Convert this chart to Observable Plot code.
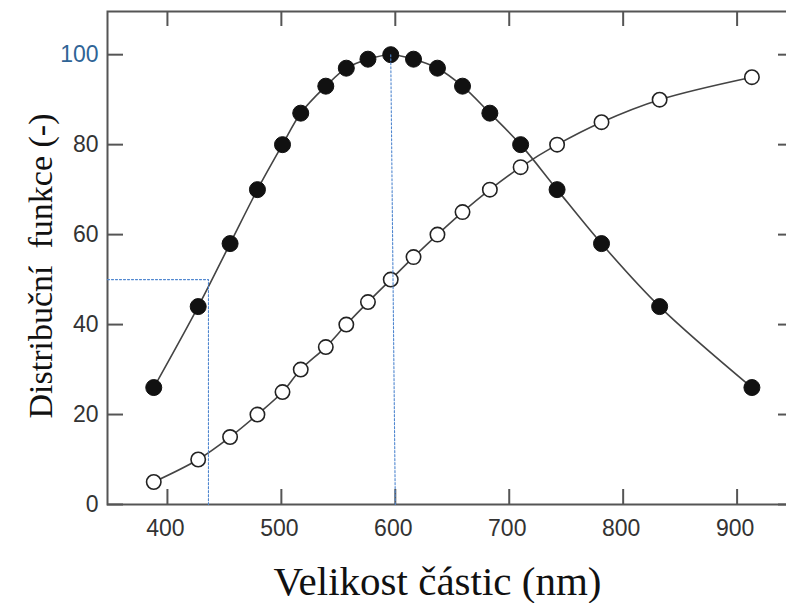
<!DOCTYPE html>
<html>
<head>
<meta charset="utf-8">
<script src="https://cdn.jsdelivr.net/npm/d3@7"></script>
<script src="https://cdn.jsdelivr.net/npm/@observablehq/plot@0.6"></script>
<style>
  html, body { margin: 0; padding: 0; background: #fff; overflow: hidden; }
</style>
</head>
<body>
<div id="chart"></div>
<script>
// Particle size (nm)
const sizes = [388, 427, 455, 479, 501, 517, 539, 557, 576, 596, 616, 637, 659, 683, 710, 742, 781, 832, 913];
// Filled circles: frequency distribution (-)
const distribution = [26, 44, 58, 70, 80, 87, 93, 97, 99, 100, 99, 97, 93, 87, 80, 70, 58, 44, 26];
// Open circles: cumulative distribution (-)
const cumulative = [5, 10, 15, 20, 25, 30, 35, 40, 45, 50, 55, 60, 65, 70, 75, 80, 85, 90, 95];

const xTicks = [400, 500, 600, 700, 800, 900];
const yTicks = [0, 20, 40, 60, 80, 100];
const xDomain = [347.4, 949.5];
const yDomain = [0, 109.6];

// Blue dotted guides
const guide50x = [xDomain[0], 436, 436];
const guide50y = [50, 50, 0];
const guideModeX = [596, 600];
const guideModeY = [100, 0];

const xTitle = "Velikost částic (nm)";
const yTitle = "Distribuční  funkce (-)";

const filledData = sizes.map((x, i) => ({x, y: distribution[i]}));
const openData = sizes.map((x, i) => ({x, y: cumulative[i]}));
const g50 = guide50x.map((x, i) => ({x, y: guide50y[i]}));
const gMode = guideModeX.map((x, i) => ({x, y: guideModeY[i]}));

const W = 786, H = 603;
const mL = 107, mR = -7, mT = 11, mB = 99;
const frameH = H - mT - mB;
const frameW = W - mL - mR;
const tickLen = 15;
const blue = "#4f86cf";

const chart = Plot.plot({
  width: W,
  height: H,
  marginLeft: mL,
  marginRight: mR,
  marginTop: mT,
  marginBottom: mB,
  style: {fontFamily: "'Liberation Sans', Arial, sans-serif", background: "#fff", color: "#333"},
  x: {domain: xDomain},
  y: {domain: yDomain},
  marks: [
    Plot.frame({stroke: "#555", strokeWidth: 2}),
    // inward ticks on all sides
    Plot.ruleX(xTicks, {insetTop: frameH - tickLen, stroke: "#555", strokeWidth: 2}),
    Plot.ruleX(xTicks, {insetBottom: frameH - tickLen, stroke: "#555", strokeWidth: 2}),
    Plot.ruleY(yTicks, {insetRight: frameW - 16, stroke: "#555", strokeWidth: 2}),
    Plot.ruleY(yTicks, {insetLeft: frameW - tickLen, stroke: "#555", strokeWidth: 2}),
    Plot.axisX(xTicks, {anchor: "bottom", tickSize: 0, tickPadding: 15, fontSize: 23, fill: "#333", dx: -2, label: null}),
    Plot.axisY(yTicks, {anchor: "left", tickSize: 0, tickPadding: 9, fontSize: 23, label: null,
      fill: d => d === 100 ? "#2f6496" : "#333"}),
    // curves
    Plot.line(filledData, {x: "x", y: "y", curve: "catmull-rom", stroke: "#444", strokeWidth: 1.6}),
    Plot.line(openData, {x: "x", y: "y", curve: "catmull-rom", stroke: "#444", strokeWidth: 1.6}),
    Plot.dot(filledData, {x: "x", y: "y", r: 8, fill: "#111", stroke: "#111", strokeWidth: 1}),
    Plot.dot(openData, {x: "x", y: "y", r: 7.2, fill: "#fff", stroke: "#222", strokeWidth: 1.6}),
    // guides
    Plot.line(g50, {x: "x", y: "y", stroke: blue, strokeWidth: 1.1, strokeDasharray: "2,2"}),
    Plot.line(gMode, {x: "x", y: "y", stroke: blue, strokeWidth: 1.1, strokeDasharray: "2,2"}),
    // axis titles
    Plot.text([xTitle], {frameAnchor: "bottom", text: d => d, textAnchor: "middle", lineAnchor: "middle",
      dx: -13, dy: 77, fontSize: 41,
      fontFamily: "'Liberation Serif', 'Times New Roman', serif", fill: "#111"}),
    Plot.text([yTitle], {frameAnchor: "left", text: d => d, textAnchor: "middle", lineAnchor: "middle",
      rotate: -90, dx: -66, dy: 8, fontSize: 34,
      fontFamily: "'Liberation Serif', 'Times New Roman', serif", fill: "#111"})
  ]
});
document.getElementById("chart").appendChild(chart);
</script>
</body>
</html>
